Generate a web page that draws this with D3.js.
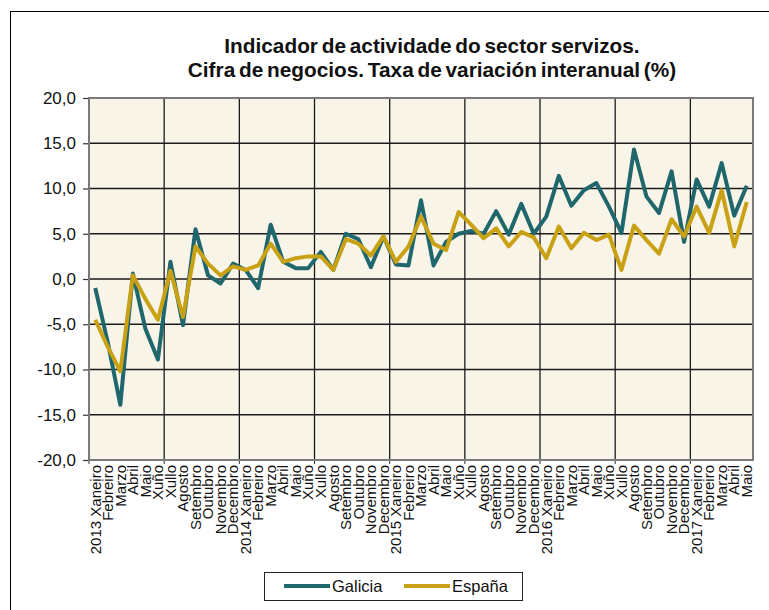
<!DOCTYPE html>
<html><head><meta charset="utf-8">
<script src="https://cdn.jsdelivr.net/npm/d3@7"></script>
<style>body{margin:0;background:#fff;font-family:"Liberation Sans",Arial,sans-serif;}</style>
</head><body>
<svg id="chart" width="769" height="610"></svg>
<script>
const months = ["Xaneiro","Febreiro","Marzo","Abril","Maio","Xuño","Xullo","Agosto","Setembro","Outubro","Novembro","Decembro"];
const years = [2013,2014,2015,2016,2017];
const categories = [];
years.forEach(y => months.forEach((m,i) => {
  if (y === 2017 && i > 4) return;
  categories.push(i === 0 ? y + " " + m : m);
}));
const galicia = [-1.0,-7.0,-13.9,0.6,-5.5,-8.9,1.9,-5.1,5.5,0.4,-0.5,1.7,
  1.0,-1.0,6.0,1.9,1.2,1.2,3.0,1.0,5.0,4.4,1.3,4.7,
  1.6,1.5,8.7,1.5,4.1,5.0,5.3,5.0,7.5,4.9,8.3,5.0,
  6.9,11.4,8.1,9.8,10.6,8.0,5.1,14.3,9.1,7.3,11.9,4.1,
  11.0,8.0,12.8,7.0,10.3];
const espana = [-4.5,-7.5,-10.2,0.4,-2.2,-4.5,0.9,-4.2,3.6,1.7,0.4,1.4,
  1.0,1.5,3.9,1.9,2.3,2.5,2.5,1.0,4.4,3.9,2.6,4.7,
  1.9,3.6,6.9,3.9,3.2,7.4,6.0,4.5,5.6,3.6,5.2,4.6,
  2.3,5.8,3.4,5.1,4.3,4.9,1.0,5.9,4.3,2.8,6.6,4.7,
  8.0,5.1,9.8,3.6,8.5];
const yTicks = [-20,-15,-10,-5,0,5,10,15,20];
const titleLines = ["Indicador de actividade do sector servizos.","Cifra de negocios. Taxa de variación interanual (%)"];
const seriesNames = ["Galicia","España"];
const colors = ["#20676d","#c9a114"];
const FONT = "'Liberation Sans',Arial,sans-serif";

const svg = d3.select("#chart");
const m = {left:89, right:753, top:98, bottom:460};

svg.append("rect").attr("x",10.5).attr("y",11.5).attr("width",800).attr("height",700)
  .attr("fill","none").attr("stroke","#000").attr("stroke-width",1);

const x = d3.scaleBand().domain(d3.range(categories.length)).range([m.left,m.right]).padding(0);
const y = d3.scaleLinear().domain([-20,20]).range([m.bottom,m.top]);

svg.append("rect").attr("x",m.left).attr("y",m.top).attr("width",m.right-m.left).attr("height",m.bottom-m.top)
  .attr("fill","#f8f4e7");

svg.append("g").selectAll("line").data(yTicks.filter(t=>t>-20&&t<20)).join("line")
  .attr("x1",m.left).attr("x2",m.right).attr("y1",d=>y(d)).attr("y2",d=>y(d))
  .attr("stroke","#1a1a1a").attr("stroke-width",1.3);
const vIdx = d3.range(6, categories.length, 6);
svg.append("g").selectAll("line").data(vIdx).join("line")
  .attr("x1",d=>x(d)).attr("x2",d=>x(d)).attr("y1",m.top).attr("y2",m.bottom)
  .attr("stroke","#1a1a1a").attr("stroke-width",1.3);

const yAxis = d3.axisLeft(y).tickValues(yTicks).tickSize(6).tickPadding(7)
  .tickFormat(d => d3.format(".1f")(d).replace(".",",").replace("−","-"));
const ga = svg.append("g").attr("transform",`translate(${m.left},0)`).call(yAxis);
ga.select(".domain").remove();
ga.selectAll(".tick line").attr("stroke","#333").attr("stroke-width",1.2);
ga.selectAll("text").attr("font-size",17).attr("fill","#111").attr("font-family",FONT);

const xAxis = d3.axisBottom(x).tickValues(d3.range(categories.length)).tickSize(0).tickPadding(0)
  .tickFormat(i => categories[i]);
const gx = svg.append("g").attr("transform",`translate(0,${m.bottom})`).call(xAxis);
gx.select(".domain").remove();
gx.selectAll("text").attr("transform","rotate(-90)").attr("text-anchor","end")
  .attr("x",-5).attr("y",0).attr("dy","0.35em")
  .attr("font-size",15).attr("fill","#111").attr("font-family",FONT);
svg.append("g").selectAll("line").data(d3.range(0, categories.length, 6)).join("line")
  .attr("x1",d=>x(d)).attr("x2",d=>x(d))
  .attr("y1",m.bottom).attr("y2",m.bottom+4).attr("stroke","#333");

svg.append("rect").attr("x",m.left).attr("y",m.top).attr("width",m.right-m.left).attr("height",m.bottom-m.top)
  .attr("fill","none").attr("stroke","#7a7a7a").attr("stroke-width",2);

const line = d3.line().x((d,i)=>x(i)+x.bandwidth()/2).y(d=>y(d));
[galicia, espana].forEach((s,k) => {
  svg.append("path").datum(s).attr("d",line).attr("fill","none")
    .attr("stroke",colors[k]).attr("stroke-width",4).attr("stroke-linejoin","round");
});

const t = svg.append("text").attr("text-anchor","middle").attr("font-weight","bold").attr("font-size",20.8)
  .attr("fill","#111").attr("font-family",FONT).attr("word-spacing","-2");
titleLines.forEach((l,i) => t.append("tspan").attr("x",432).attr("y",53 + i*24).text(l));

const lg = svg.append("g");
lg.append("rect").attr("x",264.5).attr("y",572.5).attr("width",258).attr("height",28)
  .attr("fill","#fff").attr("stroke","#222").attr("stroke-width",1);
const lx = [284, 404];
seriesNames.forEach((n,k) => {
  lg.append("line").attr("x1",lx[k]).attr("x2",lx[k]+46).attr("y1",586).attr("y2",586)
    .attr("stroke",colors[k]).attr("stroke-width",4);
  lg.append("text").attr("x",lx[k]+48).attr("y",592).attr("font-size",16.5).attr("fill","#111")
    .attr("font-family",FONT).text(n);
});
</script>
</body></html>
